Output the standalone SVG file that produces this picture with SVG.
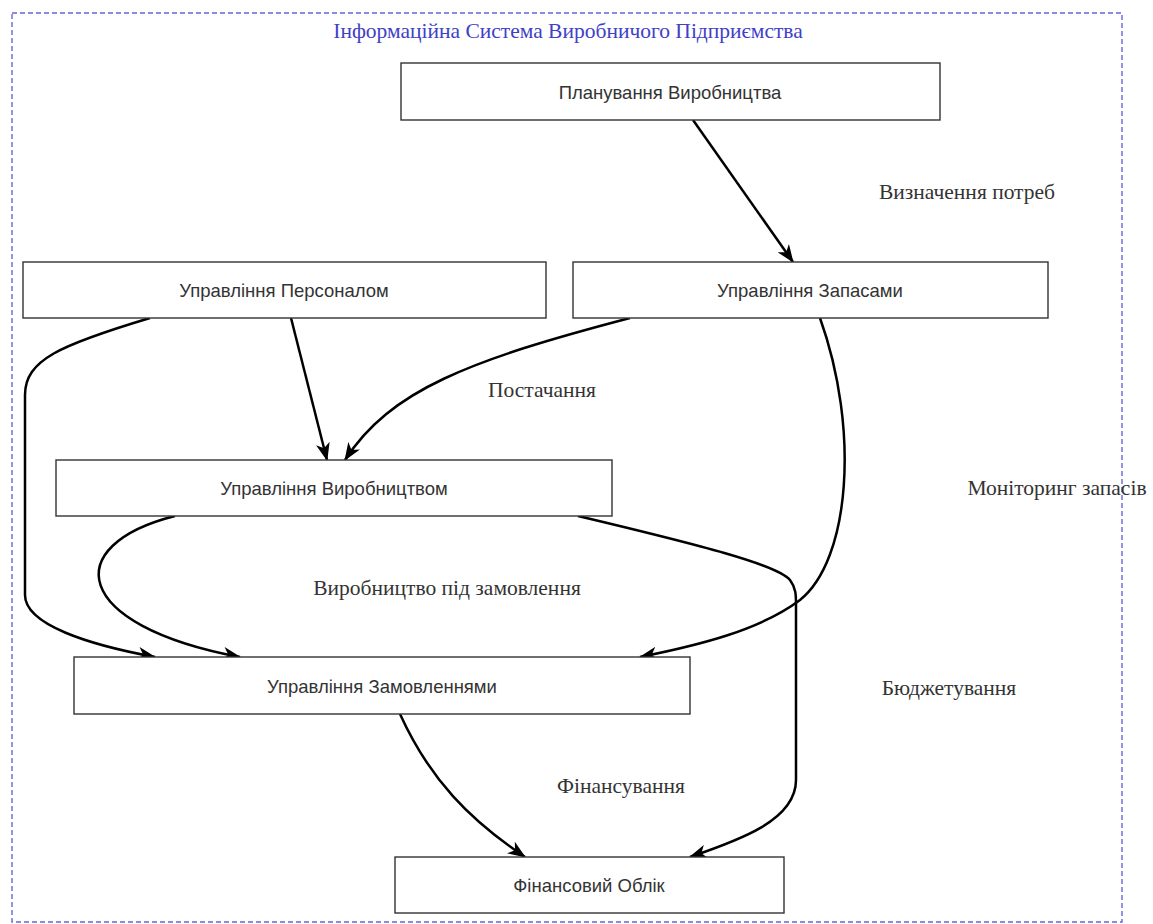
<svg xmlns="http://www.w3.org/2000/svg" width="1153" height="924" viewBox="0 0 1153 924">
<defs>
<marker id="arr" viewBox="0 0 18 14" refX="17" refY="7" markerWidth="18" markerHeight="14" markerUnits="userSpaceOnUse" orient="auto">
<path d="M0,0 L18,7 L0,14 L5,7 z" fill="#000"/>
</marker>
<style>
.node rect{fill:#fff;stroke:#333;stroke-width:1.4}
.node text{font-family:"Liberation Sans",Arial,sans-serif;font-size:18.5px;fill:#333;text-anchor:middle;dominant-baseline:central}
.lbl{font-family:"Liberation Serif","Times New Roman",serif;font-size:21.5px;fill:#333;text-anchor:middle;dominant-baseline:central}
.edge{fill:none;stroke:#000;stroke-width:2.5;marker-end:url(#arr)}
</style>
</defs>
<rect width="1153" height="924" fill="#fff"/>
<g id="boundary">
<rect x="12" y="13" width="1110" height="909" fill="none" stroke="#6666dd" stroke-width="1.4" stroke-dasharray="5,3"/>
<text x="568" y="31" class="lbl" style="fill:#4040c8">Інформаційна Система Виробничого Підприємства</text>
</g>
<g id="connectors">
<path class="edge" d="M693,120 L793,262"/>
<path class="edge" d="M291,318 L327,460"/>
<path class="edge" d="M630,318 C470,360 390,390 345,460"/>
<path class="edge" d="M150,318 C60,345 25,360 25,395 L25,595 C25,625 90,645 155,657"/>
<path class="edge" d="M175,516 C60,545 70,625 240,657"/>
<path class="edge" d="M820,318 C860,430 850,560 800,600 C760,630 700,645 640,657"/>
<path class="edge" d="M578,516 C700,545 778,565 790,580 C796,588 796,595 796,605 L796,780 C796,820 740,840 690,857"/>
<path class="edge" d="M400,714 C430,780 470,820 525,857"/>
</g>
<g id="labels">
<text class="lbl" x="967" y="192">Визначення потреб</text>
<text class="lbl" x="542" y="390">Постачання</text>
<text class="lbl" x="1057" y="488">Моніторинг запасів</text>
<text class="lbl" x="447" y="588">Виробництво під замовлення</text>
<text class="lbl" x="949" y="688">Бюджетування</text>
<text class="lbl" x="621" y="786">Фінансування</text>
</g>
<g id="n-planning" class="node"><rect x="401" y="63" width="539" height="57"/><text x="670" y="92">Планування Виробництва</text></g>
<g id="n-personnel" class="node"><rect x="23" y="262" width="523" height="56"/><text x="284" y="290">Управління Персоналом</text></g>
<g id="n-inventory" class="node"><rect x="573" y="262" width="475" height="56"/><text x="810" y="290">Управління Запасами</text></g>
<g id="n-production" class="node"><rect x="56" y="460" width="556" height="56"/><text x="334" y="488">Управління Виробництвом</text></g>
<g id="n-orders" class="node"><rect x="74" y="657" width="616" height="57"/><text x="382" y="686">Управління Замовленнями</text></g>
<g id="n-finance" class="node"><rect x="395" y="857" width="389" height="56"/><text x="589" y="885">Фінансовий Облік</text></g>
</svg>
